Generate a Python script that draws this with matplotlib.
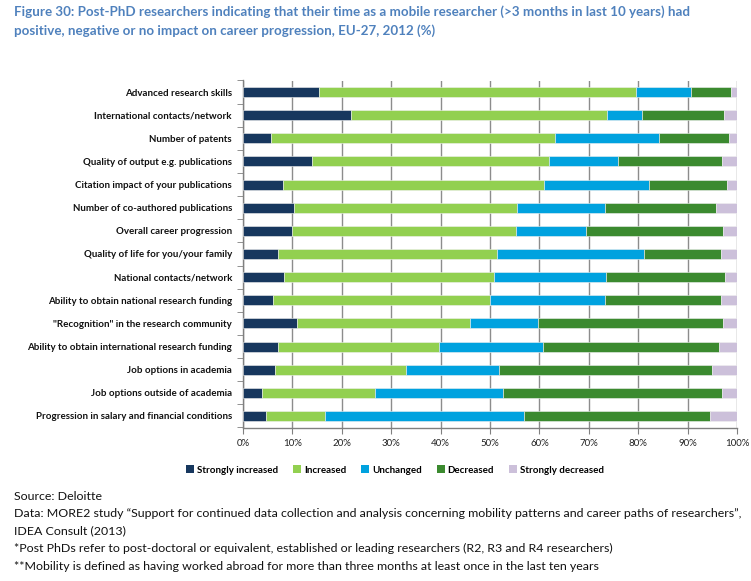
import matplotlib
matplotlib.use("Agg")
import matplotlib.pyplot as plt
from matplotlib.patches import Patch
import numpy as np

plt.rcParams['font.family'] = ['Lato', 'DejaVu Sans']

categories = [
    "Advanced research skills",
    "International contacts/network",
    "Number of patents",
    "Quality of output e.g. publications",
    "Citation impact of your publications",
    "Number of co-authored publications",
    "Overall career progression",
    "Quality of life for you/your family",
    "National contacts/network",
    "Ability to obtain national research funding",
    "\"Recognition\" in the research community",
    "Ability to obtain international research funding",
    "Job options in academia",
    "Job options outside of academia",
    "Progression in salary and financial conditions",
]
strongly_increased = [15.3, 21.8, 5.6, 14.0, 8.1, 10.3, 9.9, 7.1, 8.4, 6.1, 11.0, 7.0, 6.4, 3.9, 4.6]
increased = [64.3, 51.9, 57.5, 47.9, 52.9, 45.1, 45.4, 44.4, 42.4, 43.9, 35.0, 32.7, 26.5, 22.8, 12.1]
unchanged = [11.15, 7.1, 21.2, 14.0, 21.2, 17.9, 14.2, 29.7, 22.7, 23.3, 13.8, 21.1, 19.0, 26.0, 40.2]
decreased = [8.05, 16.5, 14.1, 21.1, 15.8, 22.4, 27.7, 15.6, 24.0, 23.5, 37.4, 35.5, 43.0, 44.3, 37.7]
strongly_decreased = [1.2, 2.7, 1.6, 3.0, 2.0, 4.3, 2.8, 3.2, 2.5, 3.2, 2.8, 3.7, 5.1, 3.0, 5.4]

series_names = ["Strongly increased", "Increased", "Unchanged", "Decreased", "Strongly decreased"]
series = [strongly_increased, increased, unchanged, decreased, strongly_decreased]
colors = ["#17375E", "#92D050", "#00A2DF", "#3B8A2F", "#CCC0DA"]
x_ticks = [0, 10, 20, 30, 40, 50, 60, 70, 80, 90, 100]
x_tick_labels = [f"{t}%" for t in x_ticks]

W, H = 751, 581
fig = plt.figure(figsize=(W / 100, H / 100), dpi=100)
ax = fig.add_axes([243 / W, 1 - 427.5 / H, (737 - 243) / W, (427.5 - 80.5) / H])

y = np.arange(len(categories))
left = np.zeros(len(categories))
for name, vals, c in zip(series_names, series, colors):
    vals = np.array(vals)
    ax.barh(y, vals, left=left, height=0.43, color=c, edgecolor="#f0f0f0",
            linewidth=0.4, label=name, zorder=3)
    left += vals

ax.set_xlim(0, 100)
ax.set_ylim(len(categories) - 0.5, -0.5)
ax.set_xticks(x_ticks)
ax.set_xticklabels(x_tick_labels, fontsize=7, color="#222222")
ax.set_yticks(y)
ax.set_yticklabels(categories, fontsize=7, fontweight="bold", color="#111111")
ax.set_yticks(np.arange(len(categories) + 1) - 0.5, minor=True)
ax.tick_params(axis="y", which="major", length=0, pad=8)
ax.tick_params(axis="y", which="minor", length=4, color="#808080", direction="out")
ax.tick_params(axis="x", length=4, color="#808080", direction="out", pad=4)
ax.grid(axis="x", color="#8c8c8c", linewidth=1.0, zorder=0)
for s in ["top", "right"]:
    ax.spines[s].set_visible(False)
for s in ["left", "bottom"]:
    ax.spines[s].set_color("#808080")
    ax.spines[s].set_linewidth(1.0)

handles = [Patch(facecolor=c, edgecolor="none", label=n) for n, c in zip(series_names, colors)]
leg = fig.legend(handles=handles, loc="center", bbox_to_anchor=(395 / W, 1 - 470 / H), ncol=5,
                 frameon=False, prop={"size": 7, "weight": "bold"}, handlelength=0.8,
                 handleheight=0.8, handletextpad=0.3, columnspacing=1.55)

fig.text(14 / W, 1 - 21 / H,
         "Figure 30: Post-PhD researchers indicating that their time as a mobile researcher (>3 months in last 10 years) had\n"
         "positive, negative or no impact on career progression, EU-27, 2012 (%)",
         fontsize=9.6, fontweight="bold", color="#4F81BD", va="center", ha="left", linespacing=1.55)

footer = [
    "Source: Deloitte",
    "Data: MORE2 study \u201cSupport for continued data collection and analysis concerning mobility patterns and career paths of researchers\u201d,",
    "IDEA Consult (2013)",
    "*Post PhDs refer to post-doctoral or equivalent, established or leading researchers (R2, R3 and R4 researchers)",
    "**Mobility is defined as having worked abroad for more than three months at least once in the last ten years",
]
for i, line in enumerate(footer):
    fig.text(14 / W, 1 - (496 + i * 17.6) / H, line, fontsize=8.95, color="#111111", va="center", ha="left")

fig.savefig("out.png", dpi=100, facecolor="white")
